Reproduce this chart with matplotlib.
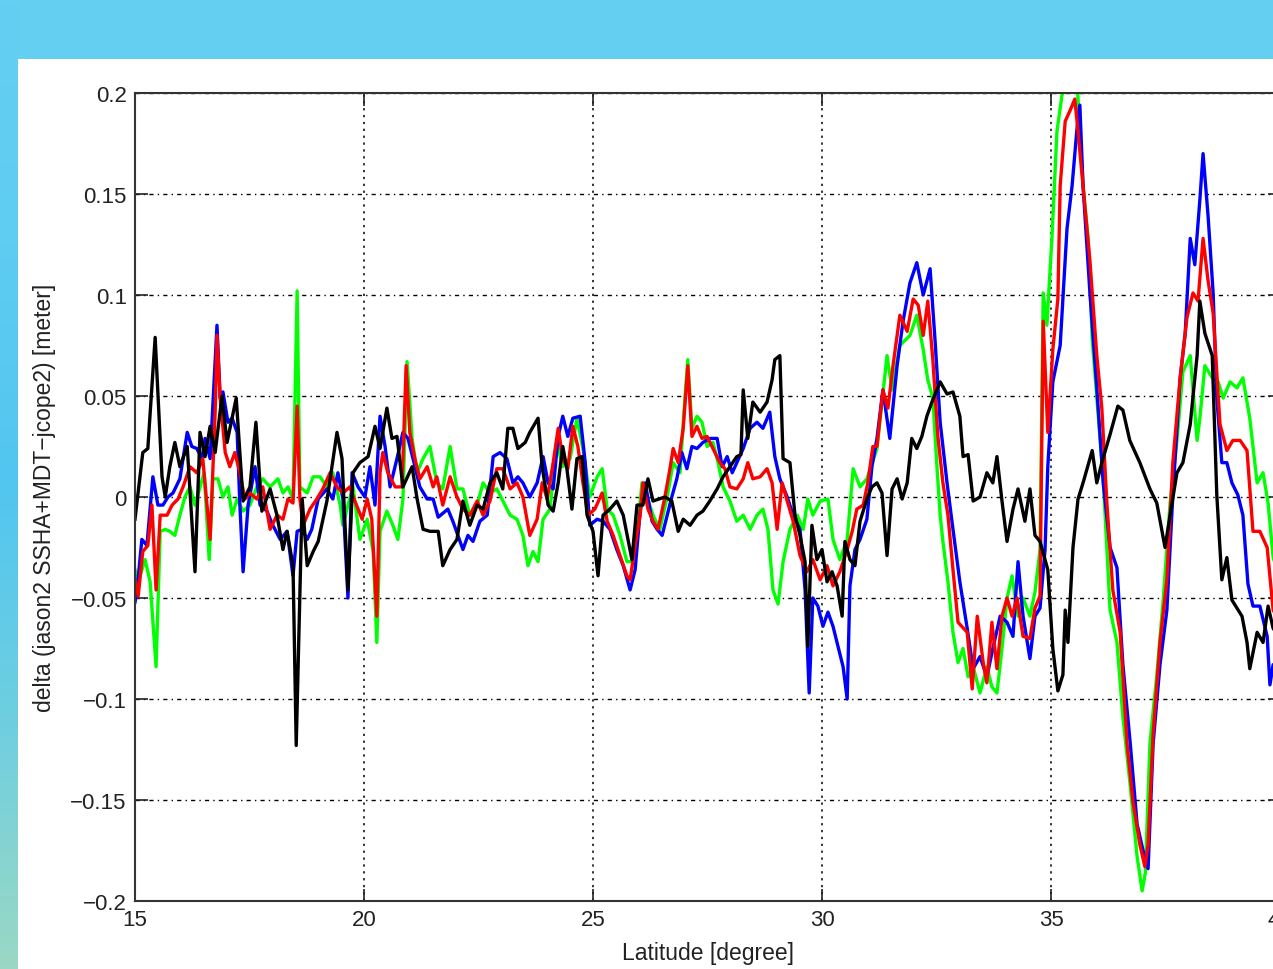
import matplotlib.pyplot as plt
import numpy as np
from matplotlib.patches import Rectangle
from matplotlib.colors import LinearSegmentedColormap

plt.rcParams['font.family'] = ['Liberation Sans', 'DejaVu Sans']
plt.rcParams['font.size'] = 16

# --- data (latitude [deg], delta [m]) ---
lat_green = [15.00, 15.07, 15.22, 15.33, 15.46, 15.55, 15.66, 15.76, 15.87, 15.98, 16.09, 16.20, 16.31, 16.42,
             16.51, 16.62, 16.70, 16.81, 16.92, 17.03, 17.12, 17.23, 17.36, 17.51, 17.66, 17.79, 17.95, 18.12,
             18.23, 18.34, 18.45, 18.54, 18.60, 18.76, 18.89, 19.04, 19.19, 19.32, 19.48, 19.54, 19.65, 19.76,
             19.91, 20.07, 20.20, 20.28, 20.35, 20.50, 20.63, 20.74, 20.85, 20.94, 21.05, 21.16, 21.29, 21.44,
             21.59, 21.72, 21.88, 22.03, 22.16, 22.31, 22.47, 22.60, 22.75, 22.90, 23.19, 23.34, 23.47, 23.58,
             23.69, 23.80, 23.91, 24.06, 24.21, 24.34, 24.50, 24.65, 24.78, 24.93, 25.09, 25.20, 25.31, 25.44,
             25.59, 25.74, 25.85, 25.96, 26.07, 26.18, 26.31, 26.46, 26.62, 26.75, 26.90, 27.01, 27.07, 27.16,
             27.27, 27.38, 27.49, 27.62, 27.73, 27.84, 27.99, 28.14, 28.28, 28.43, 28.58, 28.71, 28.82, 28.93,
             29.04, 29.15, 29.30, 29.46, 29.59, 29.69, 29.80, 29.96, 30.13, 30.24, 30.39, 30.55, 30.68, 30.83,
             30.98, 31.20, 31.42, 31.53, 31.70, 31.92, 32.07, 32.21, 32.31, 32.42, 32.51, 32.58, 32.64, 32.75,
             32.86, 32.97, 33.08, 33.19, 33.30, 33.45, 33.60, 33.71, 33.82, 33.93, 34.04, 34.15, 34.28, 34.39,
             34.54, 34.65, 34.76, 34.83, 34.91, 35.02, 35.13, 35.24, 35.35, 35.57, 35.70, 35.81, 35.90, 36.00,
             36.14, 36.29, 36.44, 36.57, 36.73, 36.88, 36.99, 37.06, 37.16, 37.31, 37.45, 37.60, 37.75, 37.88,
             38.04, 38.19, 38.25, 38.36, 38.52, 38.65, 38.76, 38.91, 39.06, 39.19, 39.34, 39.50, 39.63, 39.74,
             39.85, 40.00]
val_green = [-0.036, -0.042, -0.031, -0.042, -0.084, -0.017, -0.016, -0.017, -0.019, -0.009, 0.000, 0.005, -0.004,
             0.005, 0.012, -0.031, 0.009, 0.009, 0.000, 0.005, -0.009, -0.001, -0.007, -0.004, 0.005, 0.009, 0.005,
             0.009, 0.002, 0.005, -0.001, 0.102, 0.005, 0.002, 0.010, 0.010, 0.005, 0.012, -0.004, -0.014, -0.004,
             0.005, -0.021, -0.011, -0.027, -0.072, -0.017, -0.007, -0.014, -0.021, -0.001, 0.067, 0.029, 0.012,
             0.019, 0.025, 0.007, 0.004, 0.025, 0.004, 0.004, -0.009, -0.004, 0.007, 0.002, 0.004, -0.009, -0.011,
             -0.019, -0.034, -0.027, -0.032, -0.011, -0.006, 0.027, 0.015, 0.019, 0.039, 0.024, 0.000, 0.010, 0.014,
             -0.006, -0.009, -0.019, -0.032, -0.032, -0.019, 0.007, 0.000, -0.009, -0.016, 0.000, 0.017, 0.012,
             0.050, 0.068, 0.034, 0.040, 0.037, 0.025, 0.027, 0.017, 0.005, -0.002, -0.012, -0.009, -0.016, -0.009,
             -0.006, -0.016, -0.046, -0.053, -0.032, -0.016, -0.009, -0.016, -0.001, -0.009, -0.002, -0.001, -0.021,
             -0.031, -0.021, 0.014, 0.005, 0.009, 0.024, 0.070, 0.053, 0.075, 0.080, 0.090, 0.073, 0.058, 0.049,
             0.015, -0.009, -0.022, -0.042, -0.067, -0.082, -0.075, -0.089, -0.084, -0.097, -0.084, -0.094, -0.097,
             -0.075, -0.050, -0.039, -0.059, -0.050, -0.059, -0.047, -0.026, 0.101, 0.085, 0.128, 0.181, 0.199,
             0.205, 0.205, 0.154, 0.128, 0.078, 0.049, 0.009, -0.056, -0.072, -0.109, -0.143, -0.178, -0.195,
             -0.186, -0.122, -0.088, -0.051, -0.003, 0.028, 0.062, 0.070, 0.028, 0.039, 0.065, 0.059, 0.057, 0.049,
             0.057, 0.054, 0.059, 0.039, 0.007, 0.012, -0.003, -0.030, -0.040]

lat_blue = [15.00, 15.04, 15.15, 15.26, 15.39, 15.50, 15.61, 15.72, 15.83, 15.98, 16.14, 16.24, 16.35, 16.46,
            16.53, 16.64, 16.79, 16.86, 16.92, 17.03, 17.12, 17.23, 17.29, 17.36, 17.47, 17.62, 17.73, 17.88,
            18.01, 18.17, 18.32, 18.45, 18.54, 18.65, 18.76, 18.86, 19.00, 19.19, 19.32, 19.43, 19.54, 19.65,
            19.74, 19.87, 20.02, 20.13, 20.24, 20.35, 20.46, 20.57, 20.72, 20.85, 20.96, 21.07, 21.22, 21.38,
            21.51, 21.62, 21.83, 21.94, 22.05, 22.16, 22.27, 22.38, 22.53, 22.69, 22.82, 22.97, 23.12, 23.25,
            23.36, 23.47, 23.62, 23.78, 23.91, 24.02, 24.13, 24.24, 24.34, 24.45, 24.56, 24.72, 24.83, 24.93,
            25.09, 25.22, 25.37, 25.52, 25.66, 25.81, 25.92, 26.03, 26.14, 26.29, 26.40, 26.51, 26.62, 26.72,
            26.83, 26.94, 27.05, 27.16, 27.27, 27.40, 27.55, 27.71, 27.82, 27.93, 28.04, 28.14, 28.28, 28.43,
            28.58, 28.71, 28.86, 28.97, 29.08, 29.24, 29.37, 29.52, 29.63, 29.72, 29.80, 29.91, 30.02, 30.13,
            30.24, 30.35, 30.46, 30.55, 30.61, 30.72, 30.83, 30.98, 31.09, 31.20, 31.33, 31.48, 31.64, 31.77,
            31.92, 32.07, 32.21, 32.36, 32.47, 32.58, 32.73, 32.86, 33.01, 33.17, 33.30, 33.45, 33.60, 33.73,
            33.89, 34.04, 34.17, 34.28, 34.39, 34.54, 34.65, 34.76, 34.87, 34.93, 35.04, 35.20, 35.35, 35.46,
            35.57, 35.63, 35.70, 35.85, 36.00, 36.14, 36.29, 36.44, 36.57, 36.73, 36.88, 37.01, 37.12, 37.23,
            37.38, 37.53, 37.66, 37.82, 37.93, 38.04, 38.14, 38.25, 38.32, 38.43, 38.54, 38.62, 38.73, 38.84,
            38.95, 39.08, 39.19, 39.30, 39.41, 39.56, 39.72, 39.78, 39.85, 40.00]
val_blue = [-0.052, -0.047, -0.021, -0.024, 0.010, -0.004, -0.004, 0.000, 0.002, 0.009, 0.032, 0.025, 0.024, 0.019,
            0.029, 0.019, 0.085, 0.049, 0.052, 0.037, 0.039, 0.032, -0.004, -0.037, -0.004, 0.015, -0.004, -0.007,
            -0.014, -0.021, -0.017, -0.039, -0.017, -0.016, -0.021, -0.016, -0.001, 0.004, -0.001, 0.012, -0.001,
            -0.050, 0.012, 0.005, 0.000, 0.015, -0.004, 0.040, 0.025, 0.005, 0.019, 0.032, 0.029, 0.019, 0.005,
            -0.001, -0.001, -0.010, -0.006, -0.012, -0.019, -0.026, -0.019, -0.022, -0.012, -0.009, 0.020, 0.022,
            0.019, 0.007, 0.010, 0.007, 0.000, 0.007, 0.020, 0.007, 0.004, 0.030, 0.040, 0.030, 0.039, 0.040, 0.017,
            -0.014, -0.011, -0.012, -0.016, -0.026, -0.034, -0.046, -0.036, -0.007, 0.007, -0.012, -0.016, -0.019,
            -0.009, 0.000, 0.009, 0.022, 0.014, 0.025, 0.024, 0.027, 0.029, 0.029, 0.015, 0.020, 0.012, 0.017,
            0.024, 0.034, 0.037, 0.034, 0.042, 0.020, 0.009, 0.000, -0.009, -0.016, -0.046, -0.097, -0.050, -0.054,
            -0.064, -0.057, -0.064, -0.074, -0.084, -0.100, -0.044, -0.026, -0.021, -0.011, 0.015, 0.029, 0.053,
            0.029, 0.065, 0.087, 0.106, 0.116, 0.100, 0.113, 0.077, 0.037, 0.007, -0.016, -0.042, -0.065, -0.085,
            -0.079, -0.089, -0.075, -0.059, -0.062, -0.069, -0.032, -0.059, -0.080, -0.059, -0.055, -0.026, 0.015,
            0.057, 0.075, 0.133, 0.154, 0.183, 0.194, 0.154, 0.101, 0.054, 0.007, -0.025, -0.035, -0.083, -0.122,
            -0.162, -0.175, -0.184, -0.122, -0.083, -0.056, 0.001, 0.059, 0.081, 0.128, 0.115, 0.147, 0.170, 0.139,
            0.101, 0.049, 0.017, 0.017, 0.007, 0.001, -0.009, -0.043, -0.054, -0.054, -0.069, -0.093, -0.083,
            -0.085]

lat_red = [15.00, 15.07, 15.17, 15.28, 15.37, 15.46, 15.55, 15.70, 15.81, 15.94, 16.05, 16.20, 16.35, 16.48,
           16.64, 16.75, 16.79, 16.86, 16.97, 17.07, 17.18, 17.29, 17.40, 17.51, 17.66, 17.79, 17.95, 18.10,
           18.23, 18.34, 18.45, 18.54, 18.60, 18.67, 18.82, 18.97, 19.10, 19.26, 19.41, 19.54, 19.69, 19.80,
           19.96, 20.07, 20.17, 20.28, 20.35, 20.41, 20.52, 20.68, 20.83, 20.92, 21.00, 21.11, 21.22, 21.38,
           21.51, 21.59, 21.72, 21.88, 22.03, 22.16, 22.31, 22.47, 22.60, 22.75, 22.90, 23.03, 23.19, 23.34,
           23.47, 23.62, 23.78, 23.89, 24.00, 24.13, 24.24, 24.34, 24.45, 24.56, 24.67, 24.78, 24.89, 25.04,
           25.20, 25.31, 25.44, 25.59, 25.74, 25.81, 25.92, 26.03, 26.09, 26.20, 26.31, 26.42, 26.57, 26.68,
           26.75, 26.86, 26.97, 27.07, 27.16, 27.27, 27.38, 27.49, 27.62, 27.77, 27.88, 27.99, 28.14, 28.28,
           28.38, 28.49, 28.65, 28.80, 28.91, 29.02, 29.13, 29.24, 29.37, 29.52, 29.67, 29.80, 29.96, 30.11,
           30.24, 30.39, 30.55, 30.66, 30.76, 30.90, 31.00, 31.11, 31.20, 31.33, 31.44, 31.55, 31.70, 31.86,
           31.99, 32.10, 32.21, 32.31, 32.42, 32.53, 32.64, 32.75, 32.86, 32.97, 33.17, 33.28, 33.39, 33.52,
           33.60, 33.71, 33.82, 33.93, 34.04, 34.15, 34.26, 34.39, 34.54, 34.65, 34.76, 34.83, 34.93, 35.04,
           35.15, 35.20, 35.31, 35.41, 35.52, 35.59, 35.74, 35.85, 36.00, 36.11, 36.22, 36.35, 36.51, 36.66,
           36.79, 36.94, 37.05, 37.12, 37.23, 37.38, 37.53, 37.66, 37.82, 37.97, 38.10, 38.21, 38.32, 38.43,
           38.54, 38.69, 38.84, 38.97, 39.13, 39.28, 39.41, 39.56, 39.72, 39.85, 40.00]
val_red = [-0.041, -0.049, -0.027, -0.024, -0.004, -0.046, -0.009, -0.009, -0.004, -0.001, 0.005, 0.015, 0.012, 0.019,
           -0.021, 0.042, 0.080, 0.049, 0.022, 0.015, 0.022, 0.012, -0.001, 0.002, -0.001, 0.005, -0.016, -0.009,
           -0.011, -0.001, -0.003, 0.045, -0.001, -0.014, -0.006, -0.001, 0.004, 0.012, 0.005, 0.002, 0.005, -0.002,
           -0.011, -0.001, -0.011, -0.059, 0.012, 0.022, 0.012, 0.005, 0.005, 0.065, 0.032, 0.019, 0.009, 0.015,
           0.005, 0.010, -0.004, 0.010, 0.000, -0.006, -0.009, -0.002, -0.009, -0.002, 0.014, 0.014, 0.004, 0.007,
           0.000, -0.019, -0.011, 0.007, -0.001, 0.017, 0.034, 0.019, 0.014, 0.035, 0.025, 0.007, -0.009, -0.006,
           0.002, -0.012, -0.019, -0.029, -0.039, -0.041, -0.024, -0.009, 0.007, -0.006, -0.012, -0.016, 0.000,
           0.014, 0.024, 0.017, 0.034, 0.065, 0.030, 0.035, 0.029, 0.030, 0.024, 0.017, 0.014, 0.005, 0.004, 0.009,
           0.017, 0.009, 0.010, 0.014, 0.007, -0.016, 0.007, -0.002, -0.012, -0.029, -0.037, -0.031, -0.041, -0.034,
           -0.044, -0.037, -0.026, -0.017, -0.006, -0.004, 0.007, 0.025, 0.025, 0.053, 0.044, 0.065, 0.090, 0.082,
           0.098, 0.095, 0.080, 0.097, 0.068, 0.030, 0.007, -0.009, -0.036, -0.062, -0.067, -0.095, -0.059, -0.082,
           -0.092, -0.062, -0.085, -0.059, -0.050, -0.059, -0.050, -0.069, -0.070, -0.055, -0.049, 0.087, 0.032,
           0.073, 0.098, 0.154, 0.186, 0.191, 0.197, 0.181, 0.144, 0.117, 0.070, 0.044, -0.003, -0.046, -0.067,
           -0.122, -0.151, -0.172, -0.183, -0.172, -0.117, -0.072, -0.041, 0.017, 0.059, 0.089, 0.101, 0.097, 0.128,
           0.107, 0.091, 0.036, 0.023, 0.028, 0.028, 0.023, -0.017, -0.017, -0.025, -0.056, -0.062]

lat_black = [15.00, 15.17, 15.28, 15.44, 15.59, 15.66, 15.76, 15.87, 15.98, 16.14, 16.31, 16.42, 16.53, 16.64,
             16.75, 16.90, 17.01, 17.21, 17.36, 17.51, 17.64, 17.77, 17.95, 18.10, 18.23, 18.32, 18.45, 18.52,
             18.65, 18.76, 18.89, 19.00, 19.19, 19.41, 19.52, 19.65, 19.76, 19.91, 20.09, 20.24, 20.35, 20.50,
             20.61, 20.72, 20.85, 21.05, 21.16, 21.29, 21.44, 21.62, 21.72, 21.88, 22.03, 22.16, 22.31, 22.47,
             22.60, 22.75, 22.90, 23.03, 23.14, 23.25, 23.36, 23.52, 23.62, 23.80, 23.89, 24.02, 24.13, 24.24,
             24.34, 24.43, 24.54, 24.65, 24.76, 24.87, 25.00, 25.11, 25.22, 25.37, 25.52, 25.66, 25.85, 25.96,
             26.09, 26.20, 26.31, 26.57, 26.72, 26.86, 26.97, 27.12, 27.27, 27.40, 27.55, 27.71, 27.84, 27.99,
             28.14, 28.23, 28.28, 28.38, 28.49, 28.65, 28.80, 28.91, 28.97, 29.08, 29.15, 29.30, 29.41, 29.52,
             29.63, 29.69, 29.78, 29.89, 30.00, 30.11, 30.22, 30.33, 30.44, 30.50, 30.61, 30.72, 30.83, 30.98,
             31.09, 31.20, 31.31, 31.42, 31.53, 31.64, 31.75, 31.86, 31.96, 32.07, 32.18, 32.29, 32.40, 32.58,
             32.73, 32.86, 33.01, 33.08, 33.19, 33.30, 33.45, 33.60, 33.73, 33.82, 33.93, 34.04, 34.17, 34.28,
             34.43, 34.54, 34.65, 34.76, 34.93, 35.04, 35.15, 35.26, 35.31, 35.37, 35.48, 35.59, 35.70, 35.90,
             36.00, 36.11, 36.29, 36.46, 36.57, 36.72, 36.94, 37.16, 37.31, 37.49, 37.60, 37.75, 37.88, 38.04,
             38.19, 38.25, 38.36, 38.52, 38.62, 38.73, 38.84, 38.95, 39.17, 39.28, 39.34, 39.50, 39.63, 39.74,
             39.85, 40.00]
val_black = [-0.011, 0.022, 0.024, 0.079, 0.010, 0.000, 0.015, 0.027, 0.015, 0.025, -0.037, 0.032, 0.020, 0.035,
             0.022, 0.050, 0.027, 0.049, -0.002, 0.005, 0.037, -0.007, 0.004, -0.009, -0.026, -0.017, -0.034,
             -0.123, -0.001, -0.034, -0.027, -0.022, -0.002, 0.032, 0.019, -0.046, 0.012, 0.017, 0.020, 0.035,
             0.024, 0.044, 0.029, 0.030, 0.005, 0.015, -0.001, -0.016, -0.017, -0.017, -0.034, -0.026, -0.021,
             -0.002, -0.014, -0.004, -0.006, 0.007, 0.012, 0.004, 0.034, 0.034, 0.024, 0.027, 0.032, 0.039, 0.015,
             -0.004, -0.007, 0.007, 0.025, 0.014, -0.006, 0.019, 0.020, -0.009, -0.017, -0.039, -0.009, -0.006,
             -0.002, -0.009, -0.031, -0.004, -0.004, 0.009, -0.002, 0.000, -0.002, -0.017, -0.011, -0.014, -0.009,
             -0.007, -0.002, 0.004, 0.010, 0.015, 0.020, 0.021, 0.053, 0.029, 0.047, 0.042, 0.047, 0.058, 0.068,
             0.070, 0.019, 0.017, -0.009, -0.019, -0.032, -0.074, -0.014, -0.031, -0.026, -0.042, -0.037, -0.044,
             -0.059, -0.022, -0.031, -0.034, -0.012, -0.001, 0.005, 0.007, 0.002, -0.029, 0.004, 0.009, -0.001,
             0.007, 0.029, 0.024, 0.030, 0.040, 0.047, 0.057, 0.051, 0.052, 0.040, 0.020, 0.021, -0.002, 0.000,
             0.012, 0.007, 0.020, -0.002, -0.022, -0.006, 0.004, -0.012, 0.004, -0.019, -0.022, -0.036, -0.075,
             -0.096, -0.088, -0.056, -0.072, -0.025, -0.001, 0.007, 0.023, 0.007, 0.017, 0.031, 0.045, 0.043, 0.028,
             0.017, 0.004, -0.003, -0.025, -0.009, 0.012, 0.017, 0.036, 0.070, 0.097, 0.081, 0.070, 0.001, -0.041,
             -0.030, -0.051, -0.059, -0.072, -0.085, -0.067, -0.072, -0.054, -0.065, -0.070]

xticks = [15, 20, 25, 30, 35, 40]
yticks = [-0.2, -0.15, -0.1, -0.05, 0, 0.05, 0.1, 0.15, 0.2]
ytick_labels = ['\u22120.2', '\u22120.15', '\u22120.1', '\u22120.05', '0', '0.05', '0.1', '0.15', '0.2']

W, H = 1273, 970
fig = plt.figure(figsize=(W / 100, H / 100), dpi=100)
fig.patch.set_facecolor('#64CFF1')

# left strip of the slide background: blue fading to teal at the bottom
strip = fig.add_axes([0, 0, 18 / W, 1])
grad = np.linspace(0, 1, 200).reshape(-1, 1)
cmap = LinearSegmentedColormap.from_list('bg', ['#9AD8C5', '#6FCFE0', '#52C6F0', '#5FCCF2', '#64CFF1'])
strip.imshow(grad, aspect='auto', cmap=cmap, origin='lower', extent=[0, 1, 0, 1])
strip.set_axis_off()

# white panel
fig.add_artist(Rectangle((18 / W, 0), 1, (H - 60) / H, transform=fig.transFigure,
                         facecolor='white', edgecolor='none', zorder=0))

ax = fig.add_axes([135 / W, 68 / H, 1145 / W, 808 / H])
ax.set_facecolor('white')

lw = 2.4
ax.plot(lat_green, val_green, color='#00FF00', lw=lw)
ax.plot(lat_blue, val_blue, color='#0000FF', lw=lw)
ax.plot(lat_red, val_red, color='#FF0000', lw=lw)
ax.plot(lat_black, val_black, color='black', lw=lw)

ax.set_xlim(15, 40)
ax.set_ylim(-0.2, 0.2)
ax.set_xticks(xticks)
ax.set_yticks(yticks)
ax.set_yticklabels(ytick_labels)
ax.tick_params(direction='in', length=9, width=1.2, top=True, right=True, labelsize=16, pad=6, colors='#222222')
ax.yaxis.grid(True, color='black', linestyle=(0, (3, 3, 1, 3)), linewidth=1.0)
ax.xaxis.grid(True, color='black', linestyle=(0, (1.5, 3)), linewidth=1.1)
for s in ax.spines.values():
    s.set_linewidth(1.5)
    s.set_color('#333333')

ax.set_xlabel('Latitude [degree]', fontsize=16.5, color='#222222')
ax.set_ylabel('delta (jason2 SSHA+MDT\u2212jcope2) [meter]', fontsize=16.5, color='#222222')
ax.xaxis.set_label_coords(0.5, -0.05)
ax.yaxis.set_label_coords(-0.069, 0.5)

fig.savefig('out.png', dpi=100, facecolor=fig.get_facecolor())
